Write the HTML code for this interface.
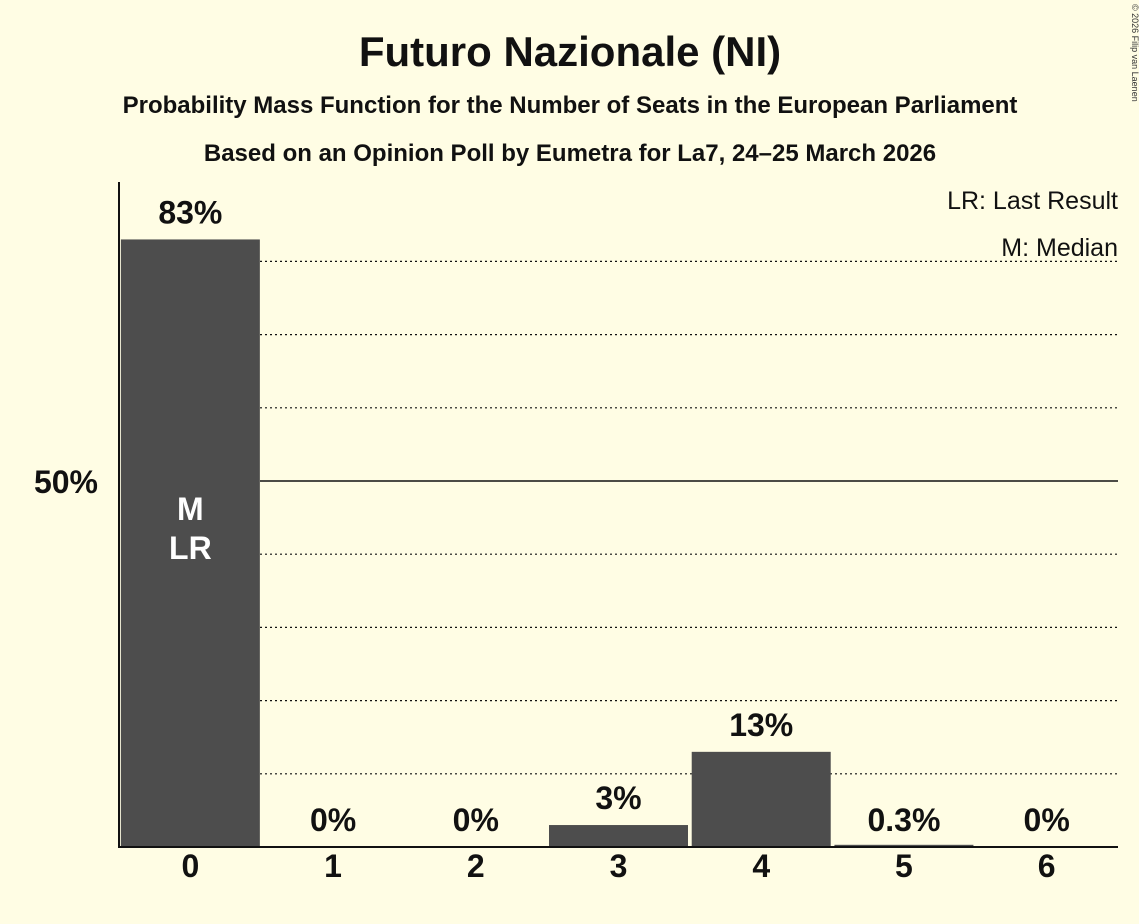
<!DOCTYPE html>
<html><head><meta charset="utf-8"><style>
body{margin:0;background:#fffde4;}
svg{display:block;font-family:"Liberation Sans",sans-serif;}
</style></head><body>
<svg id="c" width="1139" height="924" viewBox="0 0 1139 924">
<rect width="1139" height="924" fill="#fffde4"/>
<text x="570" y="66" text-anchor="middle" font-size="42" font-weight="bold" fill="#111">Futuro Nazionale (NI)</text>
<text x="570" y="113" text-anchor="middle" font-size="24" font-weight="bold" fill="#111">Probability Mass Function for the Number of Seats in the European Parliament</text>
<text x="570" y="161" text-anchor="middle" font-size="24" font-weight="bold" fill="#111">Based on an Opinion Poll by Eumetra for La7, 24–25 March 2026</text>
<text x="1132" y="4" font-size="9" fill="#333" transform="rotate(90 1132 4)">© 2026 Filip van Laenen</text>
<text x="1118" y="209" text-anchor="end" font-size="25" fill="#111">LR: Last Result</text>
<text x="1118" y="256" text-anchor="end" font-size="25" fill="#111">M: Median</text>
<g id="grid"></g><g id="bars"></g><g id="labels"></g>
<line x1="119" y1="182" x2="119" y2="848" stroke="#111" stroke-width="2"/>
<line x1="118" y1="847" x2="1118" y2="847" stroke="#111" stroke-width="2"/>
</svg>
<script>
const categories=["0","1","2","3","4","5","6"];
const values=[83,0,0,3,13,0.3,0];
const valueLabels=["83%","0%","0%","3%","13%","0.3%","0%"];
const gridTicks=[10,20,30,40,50,60,70,80];
const ns="http://www.w3.org/2000/svg";
const x0=119,x1=1118,base=847,pxPer=7.32;
const slot=(x1-x0)/categories.length;
function y(v){return base-v*pxPer;}
function xc(i){return x0+slot*i+slot/2;}
function mk(t,a,p){const e=document.createElementNS(ns,t);for(const k in a)e.setAttribute(k,a[k]);p.appendChild(e);return e;}
const g=document.getElementById('grid'),b=document.getElementById('bars'),l=document.getElementById('labels');
gridTicks.forEach(t=>{
 const ln=mk('line',{x1:260,x2:x1,y1:y(t),y2:y(t),stroke:'#111','stroke-width':t==50?1.5:1.2,'stroke-dasharray':t==50?'none':'2,3'},g);
 
 
});
const yl=mk('text',{x:98,y:y(50)+12,'text-anchor':'end','font-size':32,'font-weight':'bold',fill:'#111'},l);
yl.textContent='50%';


categories.forEach((c,i)=>{
 const v=values[i];
 const r=mk('rect',{x:xc(i)-69.5,y:y(v),width:139,height:Math.max(0,base-y(v)),fill:'#4d4d4d'},b);
 
 
 const ty=(v>50)?y(v)-16:y(v)-16;
 const t=mk('text',{x:xc(i),y:(v<1?base-16:ty),'text-anchor':'middle','font-size':32,'font-weight':'bold',fill:'#111'},l);
 t.textContent=valueLabels[i];
 
 
 const xt=mk('text',{x:xc(i),y:877,'text-anchor':'middle','font-size':32,'font-weight':'bold',fill:'#111'},l);
 xt.textContent=c;
 
 
});
const m=mk('text',{x:xc(0),y:520,'text-anchor':'middle','font-size':32,'font-weight':'bold',fill:'#fff'},l);
m.textContent='M';


const lr=mk('text',{x:xc(0),y:559,'text-anchor':'middle','font-size':32,'font-weight':'bold',fill:'#fff'},l);
lr.textContent='LR';


</script>
</body></html>
